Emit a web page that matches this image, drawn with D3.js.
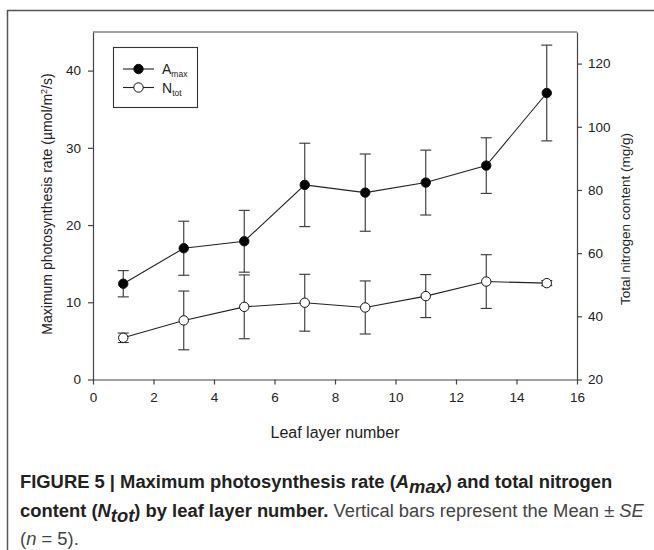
<!DOCTYPE html>
<html>
<head>
<meta charset="utf-8">
<script src="https://cdn.jsdelivr.net/npm/d3@7"></script>
<style>
  body { margin: 0; background: #fff; }
  svg { display: block; }
</style>
</head>
<body>
<svg id="chart"></svg>
<script>
// leaf layers
var layers = [1, 3, 5, 7, 9, 11, 13, 15];
// Amax (umol/m2/s), left axis
var amaxMean = [12.4, 17.0, 17.9, 25.2, 24.2, 25.5, 27.7, 37.1];
var amaxSE   = [1.7, 3.5, 4.0, 5.4, 5.0, 4.2, 3.6, 6.2];
// Ntot (mg/g), right axis
var ntotMean = [33.2, 38.7, 43.0, 44.3, 42.8, 46.4, 51.0, 50.5];
var ntotSE   = [1.5, 9.3, 10.1, 9.0, 8.4, 6.8, 8.5, 0.8];

var xTicks = [0, 2, 4, 6, 8, 10, 12, 14, 16];
var leftTicks = [0, 10, 20, 30, 40];
var rightTicks = [20, 40, 60, 80, 100, 120];

var W = 654, H = 550;
var svg = d3.select("#chart").attr("width", W).attr("height", H);

var plot = {left: 93, right: 577, top: 32, bottom: 379.5};
var font = "'Liberation Sans', Arial, sans-serif";
var axisColor = "#444";

var x = d3.scaleLinear().domain([0, 16]).range([plot.left, plot.right]);
var yL = d3.scaleLinear().domain([0, 45]).range([plot.bottom, plot.top]);
var yR = d3.scaleLinear().domain([20, 130]).range([plot.bottom, plot.top]);

// outer figure frame
svg.append("path")
  .attr("d", "M7.5,550 V10.5 H654")
  .attr("fill", "none").attr("stroke", "#555").attr("stroke-width", 1.5);

// plot box top
svg.append("path")
  .attr("d", "M" + plot.left + "," + plot.top + " H" + plot.right)
  .attr("stroke", axisColor).attr("stroke-width", 1.2);

function styleAxis(g) {
  g.select(".domain").attr("stroke", axisColor).attr("stroke-width", 1.2);
  g.selectAll(".tick line").attr("stroke", axisColor).attr("stroke-width", 1.2);
  g.selectAll(".tick text").attr("fill", "#222").style("font-family", font).style("font-size", "13.5px");
}

var xAxis = svg.append("g")
  .attr("transform", "translate(0," + plot.bottom + ")")
  .call(d3.axisBottom(x).tickValues(xTicks).tickSize(5).tickSizeOuter(0).tickPadding(8));
styleAxis(xAxis);

var lAxis = svg.append("g")
  .attr("transform", "translate(" + plot.left + ",0)")
  .call(d3.axisLeft(yL).tickValues(leftTicks).tickSize(5).tickSizeOuter(0).tickPadding(7));
styleAxis(lAxis);

var rAxis = svg.append("g")
  .attr("transform", "translate(" + plot.right + ",0)")
  .call(d3.axisRight(yR).tickValues(rightTicks).tickSize(5).tickSizeOuter(0).tickPadding(6));
styleAxis(rAxis);

// axis titles
var lt = svg.append("text")
  .attr("transform", "translate(52,204) rotate(-90)")
  .attr("text-anchor", "middle")
  .style("font-family", font).style("font-size", "14px").attr("fill", "#222");
lt.append("tspan").text("Maximum photosynthesis rate (\u00b5mol/m");
lt.append("tspan").attr("baseline-shift", "super").style("font-size", "9px").text("2");
lt.append("tspan").text("/s)");

svg.append("text")
  .attr("transform", "translate(630,219) rotate(-90)")
  .attr("text-anchor", "middle")
  .style("font-family", font).style("font-size", "13.5px").attr("fill", "#222")
  .text("Total nitrogen content (mg/g)");

svg.append("text")
  .attr("x", (plot.left + plot.right) / 2).attr("y", 438)
  .attr("text-anchor", "middle")
  .style("font-family", font).style("font-size", "16px").attr("fill", "#222")
  .text("Leaf layer number");

// series drawing
function drawSeries(mean, se, yScale, fill) {
  var g = svg.append("g");
  var pts = layers.map(function(l, i) { return {x: l, m: mean[i], s: se[i]}; });

  g.append("path").datum(pts)
    .attr("d", d3.line().x(function(d) { return x(d.x); }).y(function(d) { return yScale(d.m); }))
    .attr("fill", "none").attr("stroke", "#222").attr("stroke-width", 1.1);

  var eb = g.selectAll(".eb").data(pts).enter().append("g");
  eb.append("line")
    .attr("x1", function(d) { return x(d.x); }).attr("x2", function(d) { return x(d.x); })
    .attr("y1", function(d) { return yScale(d.m + d.s); }).attr("y2", function(d) { return yScale(d.m - d.s); })
    .attr("stroke", "#333").attr("stroke-width", 1.1);
  [1, -1].forEach(function(sign) {
    eb.append("line")
      .attr("x1", function(d) { return x(d.x) - 5.5; }).attr("x2", function(d) { return x(d.x) + 5.5; })
      .attr("y1", function(d) { return yScale(d.m + sign * d.s); })
      .attr("y2", function(d) { return yScale(d.m + sign * d.s); })
      .attr("stroke", "#333").attr("stroke-width", 1.1);
  });

  g.selectAll("circle").data(pts).enter().append("circle")
    .attr("cx", function(d) { return x(d.x); }).attr("cy", function(d) { return yScale(d.m); })
    .attr("r", 4.7).attr("fill", fill).attr("stroke", "#111").attr("stroke-width", 1);
}
drawSeries(ntotMean, ntotSE, yR, "#fff");
drawSeries(amaxMean, amaxSE, yL, "#000");

// legend
var legend = svg.append("g");
legend.append("rect").attr("x", 113.5).attr("y", 47.5).attr("width", 84).attr("height", 60)
  .attr("fill", "#fff").attr("stroke", "#333").attr("stroke-width", 1.1);
var legItems = [{name: "A", sub: "max", fill: "#000"}, {name: "N", sub: "tot", fill: "#fff"}];
legItems.forEach(function(it, i) {
  var yy = 69 + i * 18.5;
  legend.append("line").attr("x1", 123).attr("x2", 154).attr("y1", yy).attr("y2", yy)
    .attr("stroke", "#222").attr("stroke-width", 1.1);
  legend.append("circle").attr("cx", 138.5).attr("cy", yy).attr("r", 4.7)
    .attr("fill", it.fill).attr("stroke", "#111").attr("stroke-width", 1);
  var t = legend.append("text").attr("x", 162).attr("y", yy + 5)
    .style("font-family", font).style("font-size", "14px").attr("fill", "#222");
  t.append("tspan").text(it.name);
  t.append("tspan").attr("dy", 3).style("font-size", "8.5px").text(it.sub);
});

// caption
var capFont = "'Liberation Sans', Helvetica, Arial, sans-serif";
var capLines = [
  {y: 488, parts: [
    {t: "FIGURE 5 | Maximum photosynthesis rate (", w: "bold"},
    {t: "A", w: "bold", i: true},
    {t: "max", w: "bold", i: true, sub: true},
    {t: ") and total nitrogen", w: "bold"}]},
  {y: 517, parts: [
    {t: "content (", w: "bold"},
    {t: "N", w: "bold", i: true},
    {t: "tot", w: "bold", i: true, sub: true},
    {t: ") by leaf layer number.", w: "bold"},
    {t: " Vertical bars represent the Mean \u00b1 ", w: "normal", c: "#444"},
    {t: "SE", w: "normal", i: true, c: "#444"}]},
  {y: 545, parts: [
    {t: "(", w: "normal", c: "#444"},
    {t: "n", w: "normal", i: true, c: "#444"},
    {t: " = 5).", w: "normal", c: "#444"}]}
];
var capSize = 17;
var capTexts = capLines.map(function(line) {
  var t = svg.append("text").attr("x", 20).attr("y", line.y)
    .style("font-family", capFont).style("font-size", capSize + "px").attr("fill", "#222");
  line.parts.forEach(function(p) {
    var s = t.append("tspan").text(p.t).style("font-weight", p.w)
      .style("font-style", p.i ? "italic" : "normal");
    if (p.c) s.attr("fill", p.c);
    if (p.sub) s.attr("baseline-shift", "-25%");
  });
  return t;
});
// fit the first caption line to the width seen in the figure (about 593px)
var l1 = capTexts[0].node().getComputedTextLength();
var scale = 593 / l1;
capTexts.forEach(function(t) { t.style("font-size", (capSize * scale) + "px"); });
</script>
</body>
</html>
